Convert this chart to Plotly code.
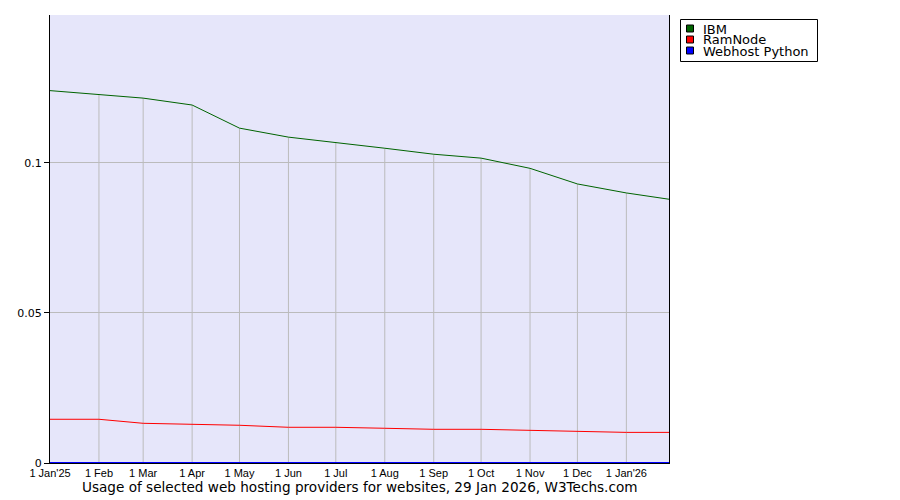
import plotly.graph_objects as go

dates = ["2025-01-01", "2025-02-01", "2025-03-01", "2025-04-01", "2025-05-01", "2025-06-01",
         "2025-07-01", "2025-08-01", "2025-09-01", "2025-10-01", "2025-11-01", "2025-12-01",
         "2026-01-01", "2026-01-28"]
ibm = [0.1241, 0.1229, 0.1216, 0.1193, 0.1116, 0.1086, 0.1069, 0.1049, 0.1029, 0.1016,
       0.0982, 0.0930, 0.0900, 0.0879]
ramnode = [0.01457, 0.01457, 0.01323, 0.0129, 0.01257, 0.0119, 0.0119, 0.01157, 0.01123,
           0.01123, 0.0109, 0.01045, 0.0102, 0.0102]
webhost = [0.0] * 14

tick_dates = dates[:13]
tick_labels = ["1 Jan'25", "1 Feb", "1 Mar", "1 Apr", "1 May", "1 Jun", "1 Jul", "1 Aug",
               "1 Sep", "1 Oct", "1 Nov", "1 Dec", "1 Jan'26"]
series = [("IBM", ibm, "#006400"), ("RamNode", ramnode, "#ff0000"), ("Webhost Python", webhost, "#0000ff")]

W, H = 900, 500
L, R, T, B = 50, 669, 15, 463

fig = go.Figure()

# vertical grid segments from 0 up to the top series
gx, gy = [], []
for d, v in zip(dates[1:13], ibm[1:13]):
    gx += [d, d, None]
    gy += [0, v, None]
fig.add_trace(go.Scatter(x=gx, y=gy, mode="lines", line=dict(color="#bbbbbb", width=1),
                         showlegend=False, hoverinfo="skip"))

for name, vals, col in series:
    fig.add_trace(go.Scatter(x=dates, y=vals, mode="lines", name=name,
                             line=dict(color=col, width=2 if name == "Webhost Python" else 1),
                             showlegend=False, cliponaxis=False))

def px(x):
    return (x - L) / (R - L)

def py(y):
    return (B - y) / (B - T)

shapes = [dict(type="rect", xref="paper", yref="paper", x0=px(680.5), x1=px(817.5),
               y0=py(61.5), y1=py(19.5), line=dict(color="black", width=1), fillcolor="white", layer="above")]
annotations = []
for i, (name, vals, col) in enumerate(series):
    top = 25 + 11 * i
    shapes.append(dict(type="rect", xref="paper", yref="paper", x0=px(686.5), x1=px(693.5),
                       y0=py(top + 7), y1=py(top), line=dict(color="black", width=1), fillcolor=col))
    annotations.append(dict(text=name, xref="paper", yref="paper", x=px(701), y=py(top + 4),
                            xanchor="left", yanchor="middle", showarrow=False,
                            font=dict(family="DejaVu Sans", size=13, color="black")))

annotations.append(dict(text="Usage of selected web hosting providers for websites, 29 Jan 2026, W3Techs.com",
                        xref="paper", yref="paper", x=0.5, y=py(487), xanchor="center", yanchor="middle",
                        showarrow=False, font=dict(family="DejaVu Sans", size=13.6, color="black")))

fig.update_layout(
    width=W, height=H,
    margin=dict(l=L, r=W - R, t=T, b=H - B, pad=0),
    paper_bgcolor="white", plot_bgcolor="#e6e6fa",
    shapes=shapes, annotations=annotations, showlegend=False,
    xaxis=dict(type="date", range=[dates[0], dates[-1]], tickvals=tick_dates, ticktext=tick_labels,
               showgrid=False, zeroline=False, showline=True, linecolor="black", linewidth=1,
               ticks="", tickfont=dict(family="Liberation Sans", size=11, color="black"), tickangle=0),
    yaxis=dict(range=[0, 0.1493], tickvals=[0, 0.05, 0.1], ticktext=["0", "0.05", "0.1"],
               showgrid=True, gridcolor="#bbbbbb", gridwidth=1, zeroline=False,
               showline=True, linecolor="black", linewidth=1, mirror=True,
               ticks="outside", ticklen=5, tickcolor="black",
               tickfont=dict(family="DejaVu Sans", size=11, color="black")),
)

fig.write_html("out.html", config={"displayModeBar": False},
               post_script="document.body.style.margin='0px';document.body.style.overflow='hidden';")
